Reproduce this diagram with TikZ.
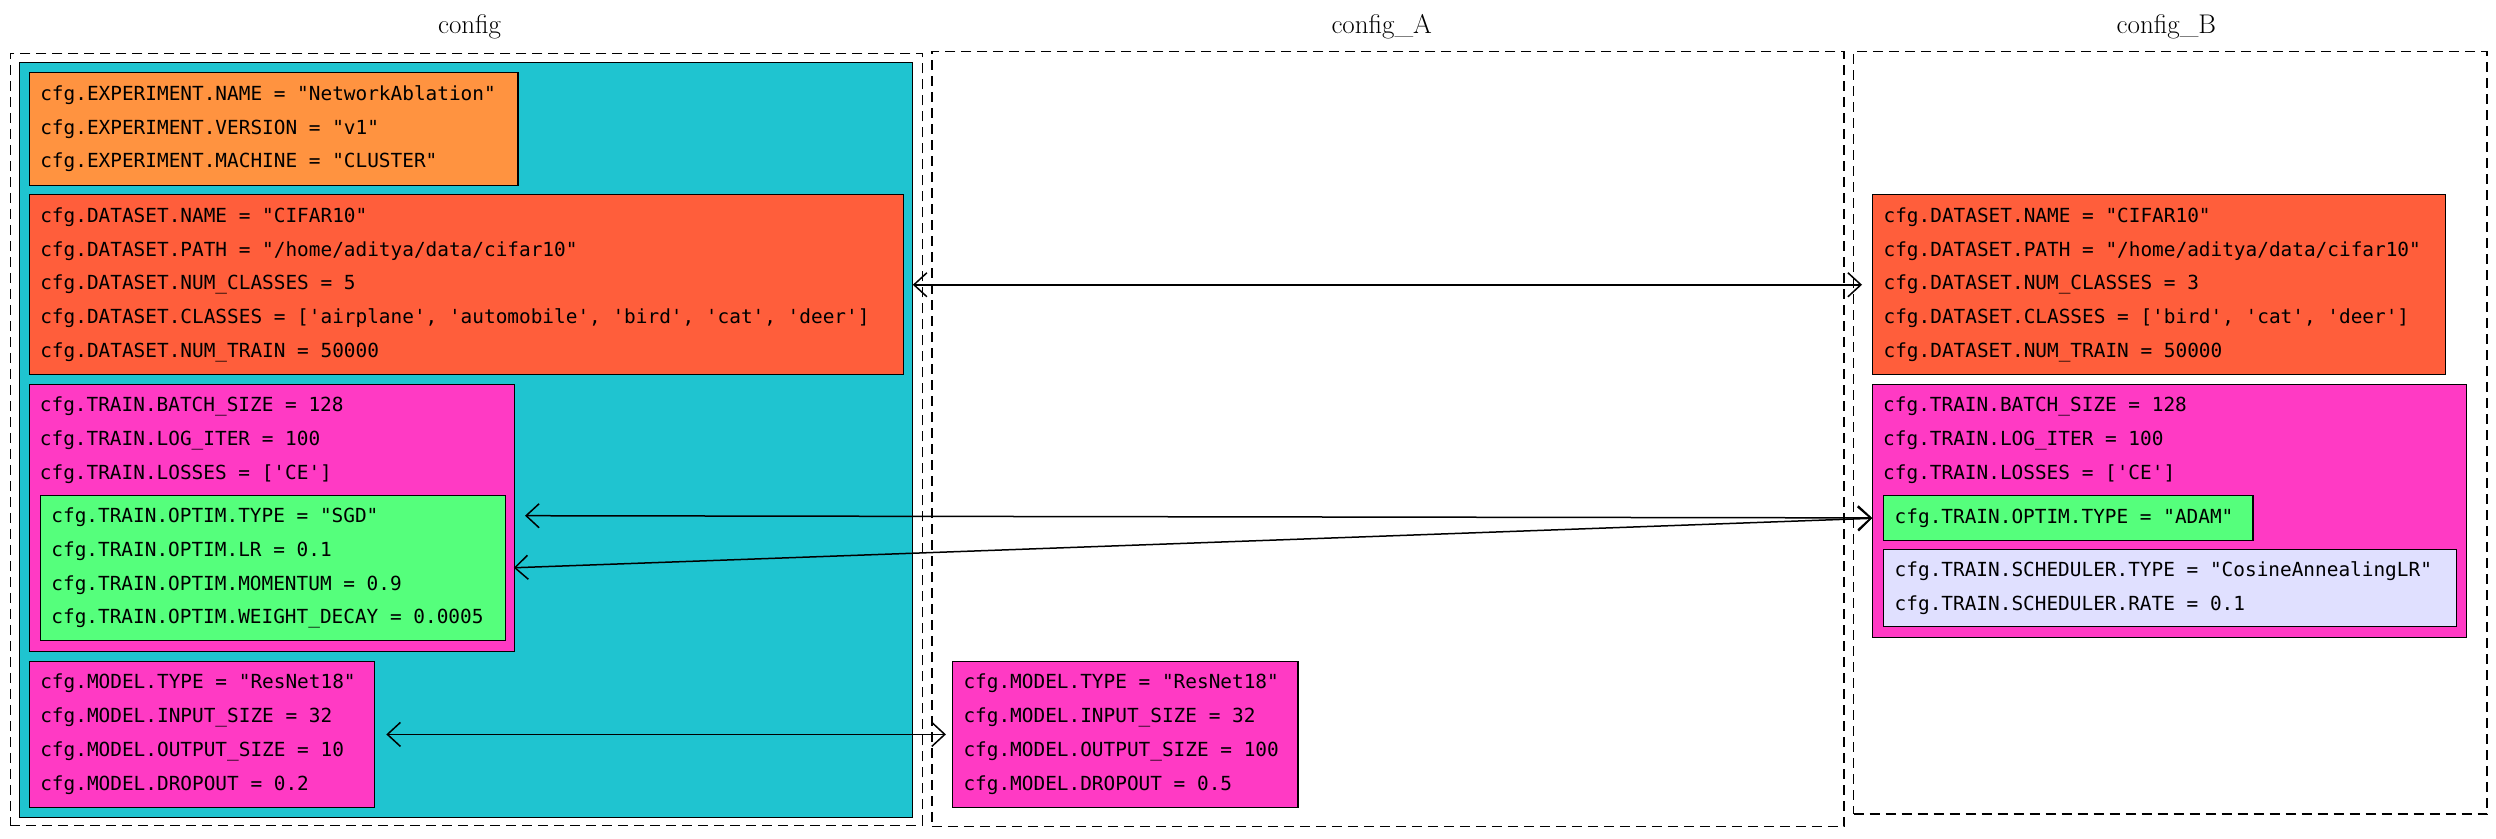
\documentclass[tikz,border=0pt]{standalone}
\usepackage{fontspec}
\setmonofont{DejaVu Sans Mono}
\usetikzlibrary{arrows.meta}

\definecolor{boxcyan}{RGB}{31,196,208}
\definecolor{exporange}{RGB}{255,147,64}
\definecolor{dsred}{RGB}{255,94,59}
\definecolor{trainpink}{RGB}{255,58,196}
\definecolor{optimgreen}{RGB}{85,255,124}
\definecolor{schedlav}{RGB}{224,224,255}

\newcommand{\cfgfont}{\ttfamily\fontsize{19.4}{33.8}\selectfont}

\begin{document}
\begin{tikzpicture}[x=1pt, y=-1pt,
  cfgbox/.style={draw=black, line width=1.2pt, anchor=north west,
    inner xsep=11pt, inner ysep=0pt, font=\cfgfont, align=flush left},
  cfgtext/.style={anchor=north west, inner xsep=11pt, inner ysep=13pt,
    font=\cfgfont, align=left},
  frame/.style={draw=black, line width=1.2pt, anchor=north west, inner sep=0pt},
  group/.style={draw=black, line width=1.3pt, dash pattern=on 10pt off 6pt,
    anchor=north west, inner sep=0pt},
  title/.style={font=\fontsize{27}{30}\selectfont},
  link/.style={{Straight Barb[length=13pt,width=24pt]}-{Straight Barb[length=13pt,width=24pt]},
    line width=1.5pt}]

  \useasboundingbox (0,0) rectangle (2496,838);

  % Group titles
  \node[title] (configlbl) at (469.6,27) {config};
  \node[title] (configAlbl) at (1381.7,27) {config\_A};
  \node[title] (configBlbl) at (2166.4,27) {config\_B};

  % config (base)
  \node[group, minimum width=912.1pt, minimum height=772pt] (config) at (9.6,52.5) {};
  \node[frame, fill=boxcyan, minimum width=893pt, minimum height=754.5pt] (base) at (19.1,62.1) {};

  \node[cfgbox, fill=exporange, text width=466.6pt, minimum height=113pt] (expC) at (28.7,71.6)
    {cfg.EXPERIMENT.NAME = "NetworkAblation"\\
     cfg.EXPERIMENT.VERSION = "v1"\\
     cfg.EXPERIMENT.MACHINE = "CLUSTER"};

  \node[cfgbox, fill=dsred, text width=851.9pt, minimum height=179.9pt] (dsC) at (28.7,194.2)
    {cfg.DATASET.NAME = "CIFAR10"\\
     cfg.DATASET.PATH = "/home/aditya/data/cifar10"\\
     cfg.DATASET.NUM\_CLASSES = 5\\
     cfg.DATASET.CLASSES = ['airplane', 'automobile', 'bird', 'cat', 'deer']\\
     cfg.DATASET.NUM\_TRAIN = 50000};

  % Training block with nested optimiser
  \node[frame, fill=trainpink, minimum width=485.5pt, minimum height=267.4pt] (trainC) at (28.7,383.6) {};
  \node[cfgtext] (trainCtxt) at (trainC.north west)
    {cfg.TRAIN.BATCH\_SIZE = 128\\
     cfg.TRAIN.LOG\_ITER = 100\\
     cfg.TRAIN.LOSSES = ['CE']};
  \node[cfgbox, fill=optimgreen, text width=442.8pt, minimum height=144.9pt] (optimC) at (39.8,495)
    {cfg.TRAIN.OPTIM.TYPE = "SGD"\\
     cfg.TRAIN.OPTIM.LR = 0.1\\
     cfg.TRAIN.OPTIM.MOMENTUM = 0.9\\
     cfg.TRAIN.OPTIM.WEIGHT\_DECAY = 0.0005};
  \coordinate (sgdC) at (525,515.7);

  \node[cfgbox, fill=trainpink, text width=323.4pt, minimum height=146.4pt] (modelC) at (28.7,660.6)
    {cfg.MODEL.TYPE = "ResNet18"\\
     cfg.MODEL.INPUT\_SIZE = 32\\
     cfg.MODEL.OUTPUT\_SIZE = 10\\
     cfg.MODEL.DROPOUT = 0.2};

  % config_A
  \node[group, minimum width=912.1pt, minimum height=775.2pt] (configA) at (931.2,50.9) {};
  \node[cfgbox, fill=trainpink, text width=323.4pt, minimum height=146.4pt] (modelA) at (951.9,660.6)
    {cfg.MODEL.TYPE = "ResNet18"\\
     cfg.MODEL.INPUT\_SIZE = 32\\
     cfg.MODEL.OUTPUT\_SIZE = 100\\
     cfg.MODEL.DROPOUT = 0.5};

  % config_B
  \node[group, minimum width=633.5pt, minimum height=762.5pt] (configB) at (1852.9,50.9) {};
  \node[cfgbox, fill=dsred, text width=551pt, minimum height=179.9pt] (dsB) at (1872,194.2)
    {cfg.DATASET.NAME = "CIFAR10"\\
     cfg.DATASET.PATH = "/home/aditya/data/cifar10"\\
     cfg.DATASET.NUM\_CLASSES = 3\\
     cfg.DATASET.CLASSES = ['bird', 'cat', 'deer']\\
     cfg.DATASET.NUM\_TRAIN = 50000};

  \node[frame, fill=trainpink, minimum width=593.7pt, minimum height=253pt] (trainB) at (1872,383.6) {};
  \node[cfgtext] (trainBtxt) at (trainB.north west)
    {cfg.TRAIN.BATCH\_SIZE = 128\\
     cfg.TRAIN.LOG\_ITER = 100\\
     cfg.TRAIN.LOSSES = ['CE']};
  \node[cfgbox, fill=optimgreen, text width=347.3pt, minimum height=44.6pt] (optimB) at (1883.1,495)
    {cfg.TRAIN.OPTIM.TYPE = "ADAM"};
  \node[cfgbox, fill=schedlav, text width=551pt, minimum height=76.4pt] (schedB) at (1883.1,549.2)
    {cfg.TRAIN.SCHEDULER.TYPE = "CosineAnnealingLR"\\
     cfg.TRAIN.SCHEDULER.RATE = 0.1};

  % Links between overridden entries
  \draw[link, shorten <=9pt, shorten >=10pt] (dsC.east) -- (dsB.west);
  \draw[link, shorten >=11pt] (sgdC) -- (optimB.west);
  \draw[link, shorten <=8pt, shorten >=11pt] (optimC.east) -- (optimB.west);
  \draw[link, shorten <=11pt, shorten >=6pt] (modelC.east) -- (modelA.west);

\end{tikzpicture}
\end{document}
